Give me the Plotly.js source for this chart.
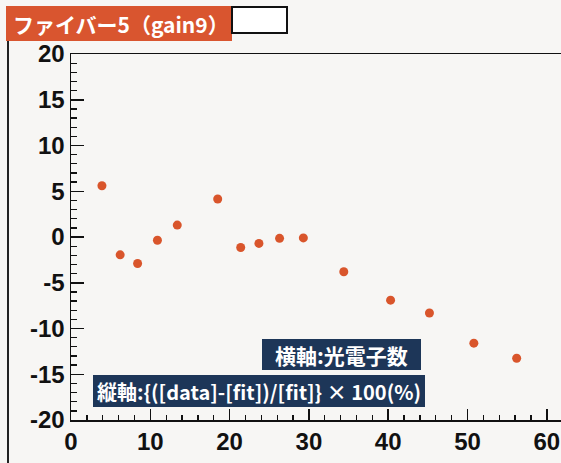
<!DOCTYPE html>
<html>
<head>
<meta charset="utf-8">
<script src="https://cdn.plot.ly/plotly-3.0.1.min.js"></script>
<style>
html,body{margin:0;padding:0;overflow:hidden;background:#f7f6f4;}
#chart{width:566px;height:463px;}
</style>
</head>
<body>
<div id="chart"></div>
<script>
// Data
const photoelectrons = [3.9, 6.2, 8.4, 10.9, 13.4, 18.5, 21.4, 23.7, 26.3, 29.3, 34.4, 40.3, 45.2, 50.8, 56.2];
const residualPct    = [5.6, -1.95, -2.9, -0.35, 1.3, 4.15, -1.15, -0.7, -0.15, -0.1, -3.8, -6.9, -8.3, -11.6, -13.25];
const xTickVals = [0, 10, 20, 30, 40, 50, 60];
const yTickVals = [-20, -15, -10, -5, 0, 5, 10, 15, 20];
const titleText = "ファイバー5（gain9）";
const xLabelText = "横軸:光電子数";
const yLabelText = "縦軸:{([data]-[fit])/[fit]} × 100(%)";

const W = 566, H = 463;
const L = 71, T = 54, B = 43, R = 0;
const pw = W - L - R, ph = H - T - B;
const px = v => (v - L) / pw;          // pixel -> paper x
const py = v => (H - B - v) / ph;      // pixel -> paper y

const tickFont = {family: "'Liberation Sans', Arial, sans-serif", size: 24, color: "#111", weight: "bold"};
const cjk = "'Noto Sans CJK JP', 'Noto Sans', sans-serif";

const trace = {
  x: photoelectrons, y: residualPct, type: "scatter", mode: "markers",
  marker: {color: "#d9552b", size: 9}, hoverinfo: "skip", showlegend: false
};

const navy = "#1d3658";
const layout = {
  width: W, height: H,
  margin: {l: L, r: R, t: T, b: B, pad: 0},
  paper_bgcolor: "#f7f6f4", plot_bgcolor: "#f7f6f4",
  showlegend: false,
  xaxis: {
    range: [0, (W - L) / 7.93], showgrid: false, zeroline: false,
    showline: true, linecolor: "#111", linewidth: 1.5, mirror: true,
    ticks: "inside", ticklen: 11, tickwidth: 1.5, tickcolor: "#111",
    tickvals: xTickVals, ticktext: xTickVals.map(String), tickfont: tickFont,
    minor: {dtick: 2, ticks: "inside", ticklen: 5, tickwidth: 1.3, tickcolor: "#111"}
  },
  yaxis: {
    range: [-20, 20], showgrid: false, zeroline: false,
    showline: true, linecolor: "#111", linewidth: 1.5, mirror: true,
    ticks: "inside", ticklen: 13, tickwidth: 1.5, tickcolor: "#111",
    tickvals: yTickVals, ticktext: yTickVals.map(String), tickfont: tickFont,
    minor: {dtick: 1, ticks: "inside", ticklen: 6, tickwidth: 1.3, tickcolor: "#111"}
  },
  shapes: [
    // outer frame left edge
    {type: "line", xref: "paper", yref: "paper", x0: px(8), x1: px(8), y0: py(40), y1: py(470), line: {color: "#222", width: 2}},
    // title bar
    {type: "rect", xref: "paper", yref: "paper", x0: px(6), x1: px(232), y0: py(41), y1: py(6), fillcolor: "#d9552f", line: {width: 0}},
    {type: "rect", xref: "paper", yref: "paper", x0: px(232), x1: px(287), y0: py(33), y1: py(7), fillcolor: "#ffffff", line: {color: "#111", width: 2}},
    // axis label boxes
    {type: "rect", xref: "paper", yref: "paper", x0: px(262), x1: px(421), y0: py(370), y1: py(339), fillcolor: navy, line: {width: 0}},
    {type: "rect", xref: "paper", yref: "paper", x0: px(93), x1: px(425), y0: py(407), y1: py(375), fillcolor: navy, line: {width: 0}}
  ],
  annotations: [
    {xref: "paper", yref: "paper", x: px(11), y: py(23.5), xanchor: "left", yanchor: "middle", showarrow: false,
     text: titleText, font: {family: cjk, size: 21, color: "#ffffff", weight: "bold"}},
    {xref: "paper", yref: "paper", x: px(341.5), y: py(354.5), xanchor: "center", yanchor: "middle", showarrow: false,
     text: xLabelText, font: {family: cjk, size: 21, color: "#ffffff", weight: "bold"}},
    {xref: "paper", yref: "paper", x: px(259), y: py(391), xanchor: "center", yanchor: "middle", showarrow: false,
     text: yLabelText, font: {family: cjk, size: 20, color: "#ffffff", weight: "bold"}}
  ]
};

Plotly.newPlot("chart", [trace], layout, {staticPlot: true, displayModeBar: false});
</script>
</body>
</html>
